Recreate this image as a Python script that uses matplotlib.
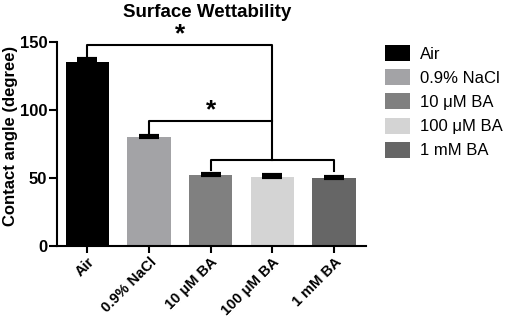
import matplotlib.pyplot as plt
import numpy as np

plt.rcParams['font.family'] = ['Liberation Sans', 'DejaVu Sans']
plt.rcParams['font.weight'] = 'bold'

groups = ["Air", "0.9% NaCl", "10 μM BA", "100 μM BA", "1 mM BA"]
angle = [135.5, 80.0, 52.0, 51.0, 49.8]
err = [2.0, 1.2, 1.0, 0.9, 1.0]
colors = ["#000000", "#a3a3a6", "#808080", "#d4d4d4", "#666666"]

fig = plt.figure(figsize=(5.05, 3.18), dpi=100)
ax = fig.add_axes([0.113, 0.226, 0.612, 0.642])

x = np.arange(len(groups))
bars = ax.bar(x, angle, width=0.7, color=colors, label=groups, zorder=2)
ax.errorbar(x, angle, yerr=[np.zeros(len(err)), err], fmt="none",
            ecolor="black", elinewidth=1.5, capsize=7, capthick=3, zorder=3)

# significance brackets
lw = 1.5
ax.plot([0, 0, 3, 3], [140, 148, 148, 63], color="black", lw=lw, clip_on=False)
ax.plot([1, 1, 3], [83, 92, 92], color="black", lw=lw)
ax.plot([2, 2, 4, 4], [56, 63, 63, 55], color="black", lw=lw)
ax.text(1.5, 147, "*", ha="center", va="bottom", fontsize=19)
ax.text(2.0, 91, "*", ha="center", va="bottom", fontsize=19)

ax.set_xlim(-0.49, 4.52)
ax.set_ylim(0, 150)
ax.set_yticks([0, 50, 100, 150])
ax.set_xticks(x)
ax.set_xticklabels(groups, rotation=45, ha="right", rotation_mode="anchor", fontsize=10.5)
ax.tick_params(axis="y", labelsize=12, width=1.5, length=6, pad=1)
ax.tick_params(axis="x", width=1.5, length=5, pad=1.5)
ax.spines["top"].set_visible(False)
ax.spines["right"].set_visible(False)
ax.spines["left"].set_linewidth(1.5)
ax.spines["bottom"].set_linewidth(1.5)
ax.set_ylabel("Contact angle (degree)", fontsize=12, fontweight="bold")
ax.yaxis.set_label_coords(-0.125, 0.54)
fig.text(0.41, 0.962, "Surface Wettability", fontsize=13.5, fontweight="bold",
         ha="center", va="center")

leg = fig.legend(loc="upper left", bbox_to_anchor=(0.762, 0.858), frameon=False,
                 borderaxespad=0, borderpad=0,
                 handlelength=1.5, handleheight=1.1, handletextpad=0.6,
                 prop={"weight": "normal", "size": 12}, labelspacing=0.45)

fig.savefig("out.png", dpi=100)
